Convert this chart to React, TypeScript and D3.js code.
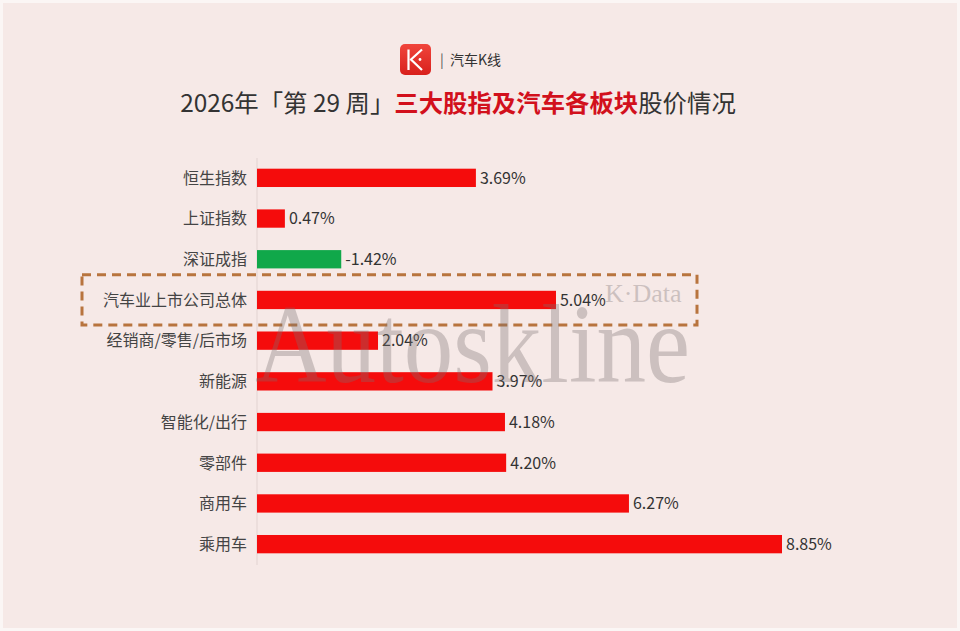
import React from "react";
import * as d3 from "d3";

const categories = [
  "恒生指数",
  "上证指数",
  "深证成指",
  "汽车业上市公司总体",
  "经销商/零售/后市场",
  "新能源",
  "智能化/出行",
  "零部件",
  "商用车",
  "乘用车",
];
const values = [3.69, 0.47, -1.42, 5.04, 2.04, 3.97, 4.18, 4.2, 6.27, 8.85];
const highlighted = "汽车业上市公司总体";
const titleParts = [
  { text: "2026年「第 29 周」", red: false },
  { text: "三大股指及汽车各板块", red: true },
  { text: "股价情况", red: false },
];

const W = 960;
const H = 631;
const FONT = "'Noto Sans CJK SC', 'Noto Sans', sans-serif";

export default function App() {
  const x = d3.scaleLinear().domain([0, 8.85]).range([257, 782]);
  const y = d3
    .scaleBand<string>()
    .domain(categories)
    .range([157.5, 564.5])
    .paddingInner(0.55)
    .paddingOuter(0.275);
  const bw = y.bandwidth();
  const hy = y(highlighted)!;

  return (
    <svg
      width={W}
      height={H}
      style={{ position: "absolute", left: 0, top: 0, background: "#fbf6f5" }}
      fontFamily={FONT}
    >
      <rect x={3} y={3} width={W - 6} height={H - 6} fill="#f6e9e7" />

      {/* logo */}
      <defs>
        <linearGradient id="lg" x1="0" y1="0" x2="0" y2="1">
          <stop offset="0" stopColor="#f0453c" />
          <stop offset="1" stopColor="#d8201c" />
        </linearGradient>
      </defs>
      <rect x={400} y={44} width={31} height={31} rx={5} fill="url(#lg)" />
      <path d="M408.5,49.5 V70" stroke="#fff" strokeWidth={2.2} fill="none" />
      <path
        d="M422,49.5 L411,59.5 L422,70"
        stroke="#fff"
        strokeWidth={2.2}
        fill="none"
      />
      <circle cx={420} cy={59.5} r={1.4} fill="#fff" />
      <text x={440} y={64.5} fontSize={14} fill="#555">|</text>
      <text x={450} y={64.5} fontSize={14} fill="#333">汽车K线</text>

      {/* title */}
      <text x={458} y={112} fontSize={24.4} textAnchor="middle" fill="#333">
        {titleParts.map((p, i) => (
          <tspan
            key={i}
            fill={p.red ? "#d2101c" : "#333"}
            fontWeight={p.red ? 700 : 400}
          >
            {p.text}
          </tspan>
        ))}
      </text>

      {/* axis line */}
      <line x1={257} x2={257} y1={158} y2={565} stroke="#e2d3d1" strokeWidth={1} />

      {/* bars */}
      {categories.map((c, i) => {
        const v = values[i];
        const yy = y(c)!;
        const x1 = x(Math.abs(v));
        return (
          <g key={c}>
            <rect
              x={x(0)}
              y={yy}
              width={x1 - x(0)}
              height={bw}
              fill={v >= 0 ? "#f50c0c" : "#10a84a"}
            />
            <text
              x={x1 + 4}
              y={yy + bw / 2}
              dy="0.36em"
              fontSize={16}
              fill="#333"
            >
              {v.toFixed(2) + "%"}
            </text>
            <text
              x={247}
              y={yy + bw / 2}
              dy="0.36em"
              fontSize={16}
              fill="#444"
              textAnchor="end"
            >
              {c}
            </text>
          </g>
        );
      })}

      {/* highlight box */}
      <rect
        x={82}
        y={hy - 16}
        width={615}
        height={bw + 32}
        fill="none"
        stroke="#b8743e"
        strokeWidth={3}
        strokeDasharray="9 6"
      />

      {/* watermark */}
      <text
        x={255}
        y={382}
        fontFamily="'Liberation Serif', 'DejaVu Serif', serif"
        fontSize={112}
        fill="#7a7070"
        opacity={0.33}
        textLength={435}
        lengthAdjust="spacingAndGlyphs"
      >
        Autoskline
      </text>
      <text
        x={605}
        y={302}
        fontFamily="'Liberation Serif', 'DejaVu Serif', serif"
        fontSize={26}
        fill="#7a7070"
        opacity={0.33}
      >
        K·Data
      </text>
    </svg>
  );
}
